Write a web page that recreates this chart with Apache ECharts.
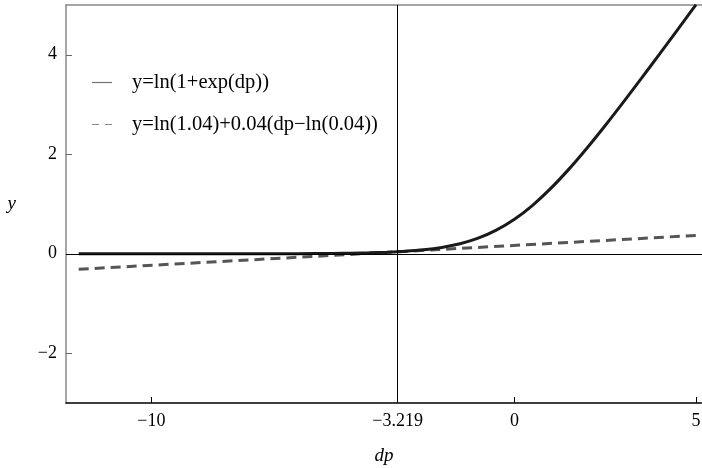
<!DOCTYPE html>
<html>
<head>
<meta charset="utf-8">
<script src="https://cdn.jsdelivr.net/npm/echarts@6/dist/echarts.min.js"></script>
<style>html,body{margin:0;padding:0;background:#fff}#c{width:702px;height:468px}</style>
</head>
<body>
<div id="c"></div>
<script>
// values
var softX = [-12, -10, -8, -6, -5, -4.5, -4, -3.5, -3, -2.5, -2, -1.5, -1, -0.5, 0, 0.5, 1, 1.5, 2, 2.5, 3, 3.5, 4, 4.5, 5];
var softY = [0.000, 0.000, 0.000, 0.002, 0.007, 0.011, 0.018, 0.030, 0.049, 0.079, 0.127, 0.201, 0.313, 0.474, 0.693, 0.974, 1.313, 1.701, 2.127, 2.579, 3.049, 3.530, 4.018, 4.511, 5.007];
var tangX = [-12, 5];
var tangY = [-0.312, 0.368];
var xTicks = [-10, -3.219, 0, 5];
var yTicks = [-2, 0, 2, 4];
var seriesNames = ['y=ln(1+exp(dp))', 'y=ln(1.04)+0.04(dp\u2212ln(0.04))'];
var refX = -3.219;
var refY = 0;

function pairs(xs, ys) { return xs.map(function (x, i) { return [x, ys[i]]; }); }
function fmt(v) { return v < 0 ? '\u2212' + Math.abs(v) : String(v); }

var FONT = 'Liberation Serif';
var chart = echarts.init(document.getElementById('c'));
chart.setOption({
  animation: false,
  backgroundColor: '#fff',
  grid: { left: 66, right: 0, top: 5, bottom: 65, outerBoundsMode: 'none', containLabel: false },
  legend: {
    orient: 'vertical',
    left: 92, top: 72, padding: 0,
    itemWidth: 20, itemHeight: 1.5, itemGap: 21,
    selectedMode: false,
    textStyle: { fontFamily: FONT, fontSize: 20.5, color: '#000', padding: [0, 0, 0, 15], lineHeight: 20 },
    data: [
      { name: seriesNames[0], icon: 'path://M0,0H16V1H0Z', itemStyle: { color: '#777' } },
      { name: seriesNames[1], icon: 'path://M0,0H7V1H0Z M13,0H20V1H13Z', itemStyle: { color: '#888' } }
    ]
  },
  xAxis: [{
    type: 'value', min: -12.35, max: 5.165,
    name: 'dp', nameLocation: 'middle', nameGap: 43,
    nameTextStyle: { fontFamily: FONT, fontSize: 19, fontStyle: 'italic', color: '#000' },
    axisLine: { onZero: false, lineStyle: { color: '#000', width: 1.5 } },
    axisTick: { inside: true, length: 6, customValues: xTicks, lineStyle: { color: '#000' } },
    axisLabel: { customValues: xTicks, formatter: fmt, margin: 9, fontFamily: FONT, fontSize: 18, color: '#000' },
    splitLine: { show: false }
  }, {
    type: 'value', position: 'top', min: -12.35, max: 5.165,
    axisLine: { show: true, onZero: false, lineStyle: { color: '#888', width: 1.5 } },
    axisTick: { show: false }, axisLabel: { show: false }, splitLine: { show: false }
  }],
  yAxis: {
    type: 'value', min: -3, max: 5,
    name: 'y', nameLocation: 'middle', nameGap: 50, nameRotate: 0,
    nameTextStyle: { fontFamily: FONT, fontSize: 19, fontStyle: 'italic', color: '#000' },
    axisLine: { show: true, onZero: false, lineStyle: { color: '#888', width: 1.5 } },
    axisTick: { inside: true, length: 6, customValues: yTicks, lineStyle: { color: '#666' } },
    axisLabel: { customValues: yTicks, formatter: fmt, margin: 9, fontFamily: FONT, fontSize: 18, color: '#000' },
    splitLine: { show: false }
  },
  series: [{
    name: seriesNames[0], type: 'line', symbol: 'none', smooth: 0.3,
    data: pairs(softX, softY),
    lineStyle: { color: '#1a1a1a', width: 3 },
    z: 3,
    markLine: {
      silent: true, symbol: 'none', label: { show: false },
      lineStyle: { color: '#000', width: 1, type: 'solid' },
      data: [{ xAxis: refX }, { yAxis: refY }]
    }
  }, {
    name: seriesNames[1], type: 'line', symbol: 'none',
    data: pairs(tangX, tangY),
    lineStyle: { color: '#555', width: 3, type: [10, 6] },
    z: 2
  }]
});
</script>
</body>
</html>
